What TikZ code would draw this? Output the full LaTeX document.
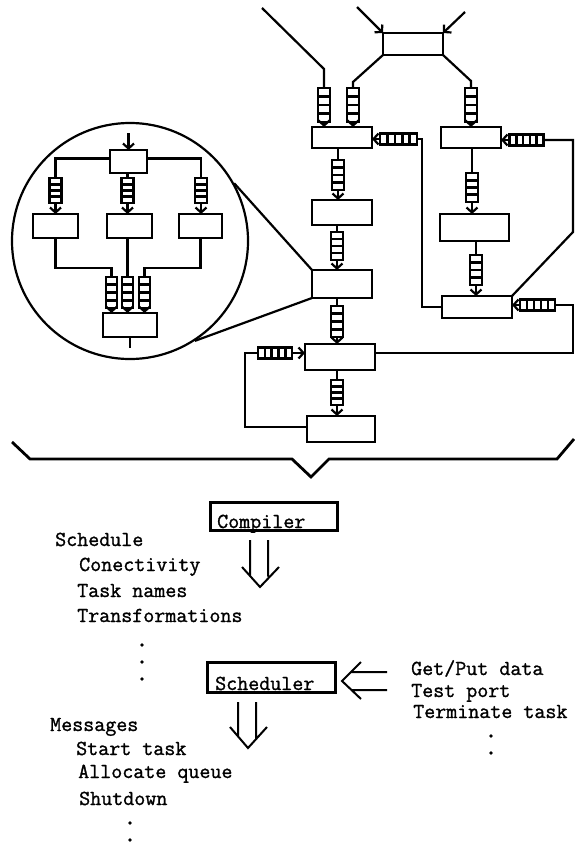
\documentclass[tikz,border=0pt]{standalone}
\usepackage{fontspec}
\newfontfamily\tw{Latin Modern Mono}[FakeBold=1.2]
\usetikzlibrary{arrows.meta,calc}
\begin{document}
\begin{tikzpicture}[x=1pt,y=-1pt,
  box/.style={draw,line width=2.8pt,inner sep=0pt,outer sep=0pt,fill=white},
  wire/.style={line width=2.2pt},
  arr/.style={line width=2.2pt,-{Straight Barb[length=5pt,width=11pt]}},
  vq/.style={draw,fill=white,line width=2.4pt,minimum width=12pt,minimum height=30pt,inner sep=0pt,outer sep=0pt,
    path picture={\foreach \f in {0.25,0.5,0.75}{\draw[line width=2.6pt]
      ($(path picture bounding box.north west)!\f!(path picture bounding box.south west)$) --
      ($(path picture bounding box.north east)!\f!(path picture bounding box.south east)$);}}},
  hq/.style={draw,fill=white,line width=2.4pt,minimum width=34pt,minimum height=11pt,inner sep=0pt,outer sep=0pt,
    path picture={\foreach \f in {0.2,0.4,0.6,0.8}{\draw[line width=2.6pt]
      ($(path picture bounding box.north west)!\f!(path picture bounding box.north east)$) --
      ($(path picture bounding box.south west)!\f!(path picture bounding box.south east)$);}}},
  txt/.style={anchor=base west,inner sep=0pt,font=\tw\fontsize{21.4pt}{21.4pt}\selectfont},
  dot/.style={fill=black,circle,inner sep=0pt,minimum size=3.8pt},
  bigbox/.style={draw,line width=3pt,inner sep=0pt,outer sep=0pt},
  dbl/.style={line width=2pt}
]
\useasboundingbox (0,0) rectangle (574,843);

% ---------- main graph ----------
\node[box,minimum width=60pt,minimum height=22pt] (T) at (413,44) {};
\node[box,minimum width=60pt,minimum height=21pt] (A) at (342,137.5) {};
\node[box,minimum width=60pt,minimum height=21pt] (B) at (471,137.5) {};
\node[box,minimum width=60pt,minimum height=25pt] (C1) at (342,212.5) {};
\node[box,minimum width=60pt,minimum height=28pt] (C) at (342,284) {};
\node[box,minimum width=70pt,minimum height=26pt] (D) at (340,357) {};
\node[box,minimum width=68pt,minimum height=26pt] (E) at (341,429) {};
\node[box,minimum width=69pt,minimum height=27pt] (F2) at (474.5,227.5) {};
\node[box,minimum width=70pt,minimum height=22pt] (F) at (477,307) {};

\node[vq,minimum height=34pt] (q1) at (324,105) {};
\node[vq,minimum height=34pt] (q2) at (353,105) {};
\node[vq,minimum height=34pt] (q3) at (471,105) {};
\node[vq] (qa) at (338,175) {};
\node[vq,minimum height=28pt] (qb) at (337,246) {};
\node[vq,minimum height=31pt] (qc) at (337,321.5) {};
\node[vq,minimum height=25pt] (qd) at (337,392.5) {};
\node[vq,minimum height=29pt] (qe) at (472,187.5) {};
\node[vq] (qf) at (476,270) {};
\node[hq,minimum width=37pt] (h1) at (398.5,139) {};
\node[hq] (h2) at (526.5,140) {};
\node[hq,minimum width=35pt] (h3) at (537.5,305) {};
\node[hq] (h4) at (275,353) {};

\coordinate (in1) at (262,8);
\coordinate (b1) at (324,69);
\coordinate (in2) at (357,7);
\coordinate (in3) at (465,12);
\coordinate (b2) at (353,82);
\coordinate (b3) at (471,81);
\draw[wire] (in1) -- (b1) -- (q1.north);
\draw[arr] (in2) -- (T.north west);
\draw[arr] (in3) -- (T.north east);
\draw[wire] (T.south west) -- (b2) -- (q2.north);
\draw[wire] (T.south east) -- (b3) -- (q3.north);
\draw[arr] (q1.south) -- (q1.south |- A.north);
\draw[arr] (q2.south) -- (q2.south |- A.north);
\draw[arr] (q3.south) -- (q3.south |- B.north);

\draw[wire] (qa.north |- A.south) -- (qa.north);
\draw[arr] (qa.south) -- (qa.south |- C1.north);
\draw[wire] (qb.north |- C1.south) -- (qb.north);
\draw[arr] (qb.south) -- (qb.south |- C.north);
\draw[wire] (qc.north |- C.south) -- (qc.north);
\draw[arr] (qc.south) -- (qc.south |- D.north);
\draw[wire] (qd.north |- D.south) -- (qd.north);
\draw[arr] (qd.south) -- (qd.south |- E.north);
\draw[wire] (qe.north |- B.south) -- (qe.north);
\draw[arr] (qe.south) -- (qe.south |- F2.north);
\draw[wire] (qf.north |- F2.south) -- (qf.north);
\draw[arr] (qf.south) -- (qf.south |- F.north);

% feedback loops
\coordinate (r1) at (422,139);
\draw[wire] (F.west) -| (r1) -- (h1.east);
\draw[arr] (h1.west) -- (h1.west -| A.east);
\coordinate (r2) at (573,232);
\coordinate (r2t) at (573,140);
\draw[wire] (F.north east) -- (r2) -- (r2t) -- (h2.east);
\draw[arr] (h2.west) -- (h2.west -| B.east);
\coordinate (r3) at (573,305);
\draw[wire] ([yshift=4pt]D.east) -| (r3) -- (h3.east);
\draw[arr] (h3.west) -- (h3.west -| F.east);
\coordinate (r4) at (245,353);
\draw[wire] ([yshift=2pt]E.west) -| (r4) -- (h4.west);
\draw[arr] (h4.east) -- (h4.east -| D.west);

% ---------- magnified circle ----------
\node[draw,circle,line width=2.2pt,minimum size=236pt,inner sep=0pt] (Z) at (130,241) {};
\draw[wire] (Z.29) -- (C.north west);
\draw[wire] (Z.-57) -- (C.south west);

\node[box,minimum width=37pt,minimum height=23pt] (t0) at (128.5,161.5) {};
\node[box,minimum width=45pt,minimum height=24pt] (bl) at (55.5,226) {};
\node[box,minimum width=45pt,minimum height=24pt] (bm) at (129.5,226) {};
\node[box,minimum width=43pt,minimum height=24pt] (br) at (200.5,226) {};
\node[box,minimum width=54pt,minimum height=24pt] (bb) at (130,325) {};
\node[vq,minimum height=25pt] (iq1) at (55.5,190.5) {};
\node[vq,minimum height=25pt] (iq2) at (127.5,190.5) {};
\node[vq,minimum height=25pt] (iq3) at (201,190.5) {};
\node[vq,minimum width=11pt,minimum height=31pt] (jq1) at (111.5,292.5) {};
\node[vq,minimum width=11pt,minimum height=31pt] (jq2) at (127.5,292.5) {};
\node[vq,minimum width=11pt,minimum height=31pt] (jq3) at (144.5,292.5) {};

\coordinate (tin) at (128.5,133);
\draw[arr] (tin) -- (t0.north);
\draw[wire] ([yshift=3pt]t0.west) -| (iq1.north);
\draw[wire] ([yshift=3pt]t0.east) -| (iq3.north);
\draw[wire] (iq2.north |- t0.south) -- (iq2.north);
\draw[arr] (iq1.south) -- (iq1.south |- bl.north);
\draw[arr] (iq2.south) -- (iq2.south |- bm.north);
\draw[arr] (iq3.south) -- (iq3.south |- br.north);
\coordinate (jcl) at (111.5,268);
\coordinate (jcr) at (144.5,268);
\draw[wire] (bl.south) |- (jcl) -- (jq1.north);
\draw[wire] (jq2.north |- bm.south) -- (jq2.north);
\draw[wire] (br.south) |- (jcr) -- (jq3.north);
\draw[arr] (jq1.south) -- (jq1.south |- bb.north);
\draw[arr] (jq2.south) -- (jq2.south |- bb.north);
\draw[arr] (jq3.south) -- (jq3.south |- bb.north);
\coordinate (bout) at (130,348);
\draw[wire] (bb.south) -- (bout);

% ---------- brace ----------
\draw[line width=2.8pt] (12,442) -- (30,459) -- (292,459) -- (311,477) -- (329,459) -- (557,459) -- (574,439);

% ---------- lower part ----------
\node[bigbox,minimum width=127pt,minimum height=28pt] (comp) at (273.5,516) {};
\node[txt] (compt) at (217,528) {Compiler};
\node[bigbox,minimum width=128pt,minimum height=30pt] (sched) at (271,677) {};
\node[txt] (schedt) at (215,690) {Scheduler};

\draw[dbl] (250,540) -- (250,576) (268,540) -- (268,576.5) (242,567) -- (260,587) -- (279,567);
\draw[dbl] (238,702) -- (238,736) (256,702) -- (256,739) (230,727) -- (248,748) -- (267,727);
\draw[dbl] (387,672) -- (351,672) (387,690) -- (351.5,690) (361,662) -- (342,681) -- (361,699);

\node[txt] (s1) at (55,546) {Schedule};
\node[txt] (s2) at (79,571) {Conectivity};
\node[txt] (s3) at (77,597) {Task names};
\node[txt] (s4) at (77,622) {Transformations};
\node[dot] at (142,645) {};
\node[dot] at (142,662) {};
\node[dot] at (142,679) {};

\node[txt] (m1) at (50,731) {Messages};
\node[txt] (m2) at (76,755) {Start task};
\node[txt] (m3) at (78,778) {Allocate queue};
\node[txt] (m4) at (79,805) {Shutdown};
\node[dot] at (130,823) {};
\node[dot] at (130,840) {};

\node[txt] (g1) at (411,675) {Get/Put data};
\node[txt] (g2) at (411,697) {Test port};
\node[txt] (g3) at (413,718) {Terminate task};
\node[dot] at (491,736) {};
\node[dot] at (491,753) {};
\end{tikzpicture}
\end{document}
